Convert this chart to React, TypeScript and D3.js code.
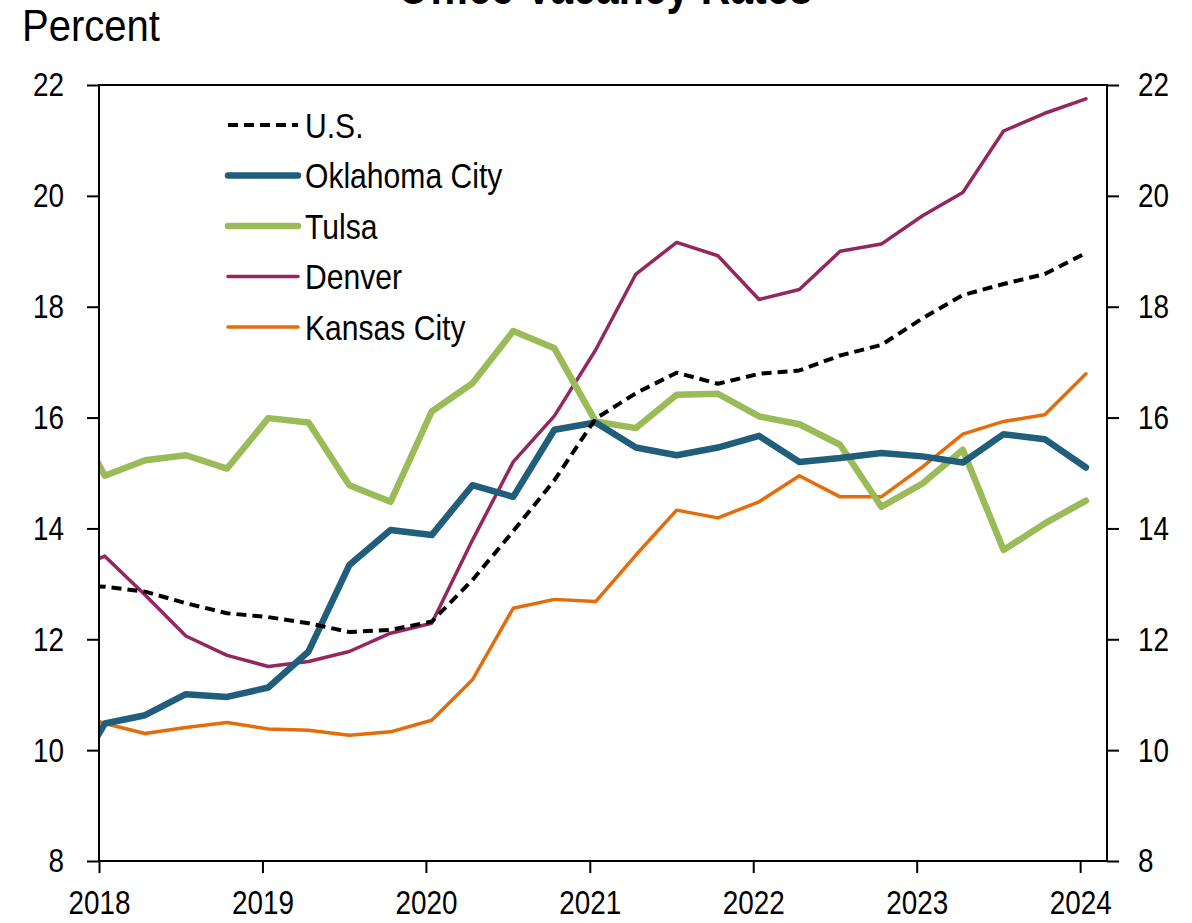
import React, { useRef, useEffect } from "react";
import * as d3 from "d3";

// quarterly office vacancy rates, percent (first quarter is just off the left edge)
export const quarters = [
  "2017Q4",
  "2018Q1", "2018Q2", "2018Q3", "2018Q4",
  "2019Q1", "2019Q2", "2019Q3", "2019Q4",
  "2020Q1", "2020Q2", "2020Q3", "2020Q4",
  "2021Q1", "2021Q2", "2021Q3", "2021Q4",
  "2022Q1", "2022Q2", "2022Q3", "2022Q4",
  "2023Q1", "2023Q2", "2023Q3", "2023Q4",
  "2024Q1",
];

export const us = [
  12.97, 12.95, 12.86, 12.65, 12.47, 12.4, 12.29, 12.13, 12.17, 12.32, 13.07, 13.95, 14.87,
  15.98, 16.44, 16.81, 16.61, 16.79, 16.85, 17.12, 17.31, 17.79, 18.21, 18.41, 18.59, 18.97,
];
export const oklahomaCity = [
  9.2, 10.48, 10.63, 11.01, 10.96, 11.13, 11.78, 13.34, 13.97, 13.88, 14.78, 14.57, 15.78,
  15.91, 15.46, 15.32, 15.46, 15.67, 15.2, 15.27, 15.36, 15.3, 15.19, 15.7, 15.61, 15.1,
];
export const tulsa = [
  16.35, 14.95, 15.23, 15.32, 15.08, 15.99, 15.91, 14.78, 14.48, 16.11, 16.62, 17.56, 17.25,
  15.93, 15.81, 16.41, 16.43, 16.02, 15.88, 15.51, 14.39, 14.81, 15.42, 13.61, 14.09, 14.5,
];
export const denver = [
  13.2, 13.5, 12.8, 12.06, 11.71, 11.51, 11.6, 11.78, 12.11, 12.29, 13.79, 15.2, 16.03,
  17.22, 18.59, 19.16, 18.92, 18.13, 18.31, 19.0, 19.13, 19.64, 20.06, 21.17, 21.49, 21.75,
];
export const kansasCity = [
  10.75, 10.48, 10.3, 10.41, 10.5, 10.38, 10.36, 10.27, 10.33, 10.54, 11.27, 12.56, 12.72,
  12.68, 13.52, 14.33, 14.19, 14.48, 14.95, 14.57, 14.57, 15.11, 15.7, 15.93, 16.05, 16.79,
];

export const yTicks = [8, 10, 12, 14, 16, 18, 20, 22];
export const xTickYears = [2018, 2019, 2020, 2021, 2022, 2023, 2024];

const series = [
  { name: "U.S.", values: us, color: "#000000", width: 4, dash: "10,6" },
  { name: "Oklahoma City", values: oklahomaCity, color: "#205e7b", width: 6.5, dash: null },
  { name: "Tulsa", values: tulsa, color: "#9bbb59", width: 6.5, dash: null },
  { name: "Denver", values: denver, color: "#942660", width: 3.5, dash: null },
  { name: "Kansas City", values: kansasCity, color: "#e46c0a", width: 3.5, dash: null },
];

const FONT = "'Liberation Sans', Arial, sans-serif";

// "2018Q2" -> mid-month of the quarter's first month
const quarterDate = (q: string) =>
  new Date(+q.slice(0, 4), (+q.slice(5) - 1) * 3, 14);

// squeeze text horizontally (the original uses a narrow face we don't have)
const narrow = (sel, k) =>
  sel.each(function () {
    const t = d3.select(this);
    const x0 = +(t.attr("x") || 0);
    t.attr("x", x0 / k).attr("transform", `scale(${k},1)`);
  });

const Chart = () => {
  const ref = useRef<SVGSVGElement>(null);

  useEffect(() => {
    const width = 1192;
    const height = 923;
    const left = 99;
    const right = 1107;
    const top = 85;
    const bottom = 861;

    const svg = d3.select(ref.current).attr("width", width).attr("height", height);
    svg.selectAll("*").remove();

    const x = d3
      .scaleTime()
      .domain([new Date(2018, 0, 1), new Date(2024, 2, 1)])
      .range([left, right]);
    const y = d3.scaleLinear().domain([8, 22]).range([bottom, top]);

    svg
      .append("defs")
      .append("clipPath")
      .attr("id", "plot")
      .append("rect")
      .attr("x", left)
      .attr("y", top - 10)
      .attr("width", right - left)
      .attr("height", bottom - top + 20);

    // title, mostly cut off by the top of the picture (as in the original)
    svg
      .append("text")
      .attr("x", 605)
      .attr("y", 4)
      .attr("text-anchor", "middle")
      .style("font-family", FONT)
      .style("font-size", "50px")
      .style("font-weight", "bold")
      .text("Office Vacancy Rates")
      .call(narrow, 0.82);

    svg
      .append("text")
      .attr("x", 22)
      .attr("y", 41)
      .style("font-family", FONT)
      .style("font-size", "45px")
      .text("Percent")
      .call(narrow, 0.89);

    const line = d3
      .line<number>()
      .x((d, i) => x(quarterDate(quarters[i])))
      .y((d) => y(d));

    const lines = svg.append("g").attr("clip-path", "url(#plot)");
    series
      .slice()
      .reverse()
      .forEach((s) => {
        lines
          .append("path")
          .attr("d", line(s.values))
          .attr("fill", "none")
          .attr("stroke", s.color)
          .attr("stroke-width", s.width)
          .attr("stroke-linejoin", "round")
          .attr("stroke-dasharray", s.dash)
          .attr("stroke-linecap", s.dash ? "butt" : "round");
      });

    // frame
    svg
      .append("rect")
      .attr("x", left)
      .attr("y", top)
      .attr("width", right - left)
      .attr("height", bottom - top)
      .attr("fill", "none")
      .attr("stroke", "#000")
      .attr("stroke-width", 2);

    const styleAxis = (g) => {
      g.select(".domain").remove();
      g.selectAll("line").attr("stroke", "#000").attr("stroke-width", 2);
      g.selectAll("text")
        .style("font-family", FONT)
        .style("font-size", "34px")
        .attr("fill", "#000")
        .call(narrow, 0.82);
    };

    svg
      .append("g")
      .attr("transform", `translate(${left},0)`)
      .call(d3.axisLeft(y).tickValues(yTicks).tickSize(12).tickPadding(23))
      .call(styleAxis);

    svg
      .append("g")
      .attr("transform", `translate(${right},0)`)
      .call(d3.axisRight(y).tickValues(yTicks).tickSize(12).tickPadding(19))
      .call(styleAxis);

    svg
      .append("g")
      .attr("transform", `translate(0,${bottom})`)
      .call(
        d3
          .axisBottom(x)
          .tickValues(xTickYears.map((yr) => new Date(yr, 0, 1)))
          .tickFormat(d3.timeFormat("%Y"))
          .tickSize(12)
          .tickPadding(17)
      )
      .call(styleAxis);

    // legend
    const legend = svg.append("g").attr("transform", "translate(228,125)");
    series.forEach((s, i) => {
      const row = legend.append("g").attr("transform", `translate(0,${i * 50.5})`);
      row
        .append("line")
        .attr("x1", 0)
        .attr("x2", 70)
        .attr("stroke", s.color)
        .attr("stroke-width", s.width)
        .attr("stroke-dasharray", s.dash)
        .attr("stroke-linecap", s.dash ? "butt" : "round");
      row
        .append("text")
        .attr("x", 77)
        .attr("dy", "0.36em")
        .style("font-family", FONT)
        .style("font-size", "35px")
        .text(s.name)
        .call(narrow, 0.86);
    });
  }, []);

  return <svg ref={ref}></svg>;
};

export default function App() {
  return (
    <div style={{ position: "absolute", left: 0, top: 0 }}>
      <Chart />
    </div>
  );
}
